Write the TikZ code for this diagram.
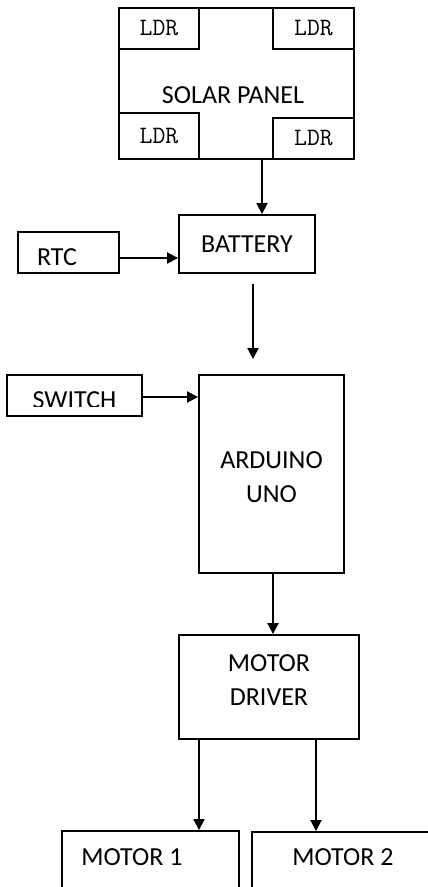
\documentclass[tikz,border=0pt]{standalone}
\usepackage{fontspec}
\setmainfont{Carlito}
\newfontfamily\ldrfont{Latin Modern Mono}
\usetikzlibrary{arrows.meta}

\begin{document}
\begin{tikzpicture}[x=1pt,y=-1pt,
  font=\fontsize{26}{34}\selectfont,
  box/.style={draw,line width=1.9pt,inner sep=0pt},
  ldrbox/.style={box,minimum width=80pt,minimum height=41pt,font=\ldrfont\fontsize{25}{28}\selectfont},
  arr/.style={line width=1.9pt,-{Triangle[length=11pt,width=11pt]}}]
\clip (0,0) rectangle (428,887);

% Solar panel with its four LDRs
\node[box,minimum width=235pt,minimum height=151pt] (panel) at (236.5,83.5) {};
\node (panellabel) at (233,95) {SOLAR PANEL};
\node[ldrbox] (ldrA) at (159,28.5) {LDR};
\node[ldrbox,minimum width=81pt] (ldrB) at (313.5,28.5) {LDR};
\node[ldrbox,minimum height=46pt] (ldrC) at (159,136) {LDR};
\node[ldrbox,minimum width=81pt] (ldrD) at (313.5,138.5) {LDR};

% Battery and RTC
\node[box,minimum width=136pt,minimum height=58pt] (battery) at (247,244) {BATTERY};
\node[box,minimum width=101pt,minimum height=41pt,label={[xshift=-11.5pt,yshift=-4.5pt]center:RTC}] (rtc) at (68.5,252.5) {};

% Switch (text cut off at the bottom)
\node[box,minimum width=135pt,minimum height=41pt] (switch) at (74.5,395.5) {};
\begin{scope}
\clip (switch.north west) rectangle ([yshift=-11pt]switch.east);
\node (switchlabel) at ([yshift=-5pt]switch.center) {SWITCH};
\end{scope}

% Arduino and motor driver
\node[box,minimum width=145pt,minimum height=198pt,label={[align=center,yshift=-3pt]center:ARDUINO\\UNO}] (arduino) at (271.5,474) {};
\node[box,minimum width=180pt,minimum height=104pt,label={[align=center,yshift=7pt]center:MOTOR\\DRIVER}] (driver) at (269,687) {};

% Motors
\node[box,minimum width=177pt,minimum height=89pt,label={[xshift=-18.5pt,yshift=18.5pt]center:MOTOR 1}] (motorA) at (150.5,875.5) {};
\node[box,minimum width=198pt,minimum height=88pt,label={[xshift=-8pt,yshift=19pt]center:MOTOR 2}] (motorB) at (351,876) {};

% Connections
\draw[arr] ([xshift=25.5pt]panel.south) -- ([xshift=15pt]battery.north);
\draw[arr] ([yshift=-5.5pt]rtc.east) -- ([yshift=-5.5pt]rtc.east -| battery.west);
\draw[arr] ([xshift=6pt,yshift=-10pt]battery.south) -- ([xshift=6pt,yshift=15pt]battery.south |- arduino.north);
\draw[arr] ([yshift=-1.5pt]switch.east) -- ([yshift=-1.5pt]switch.east -| arduino.west);
\draw[arr] ([xshift=1.5pt]arduino.south) -- ([xshift=1.5pt]arduino.south |- driver.north);
\draw[arr] ([xshift=-70pt]driver.south) -- ([xshift=-70pt]driver.south |- motorA.north);
\draw[arr] ([xshift=47pt]driver.south) -- ([xshift=47pt]driver.south |- motorB.north);
\end{tikzpicture}
\end{document}
